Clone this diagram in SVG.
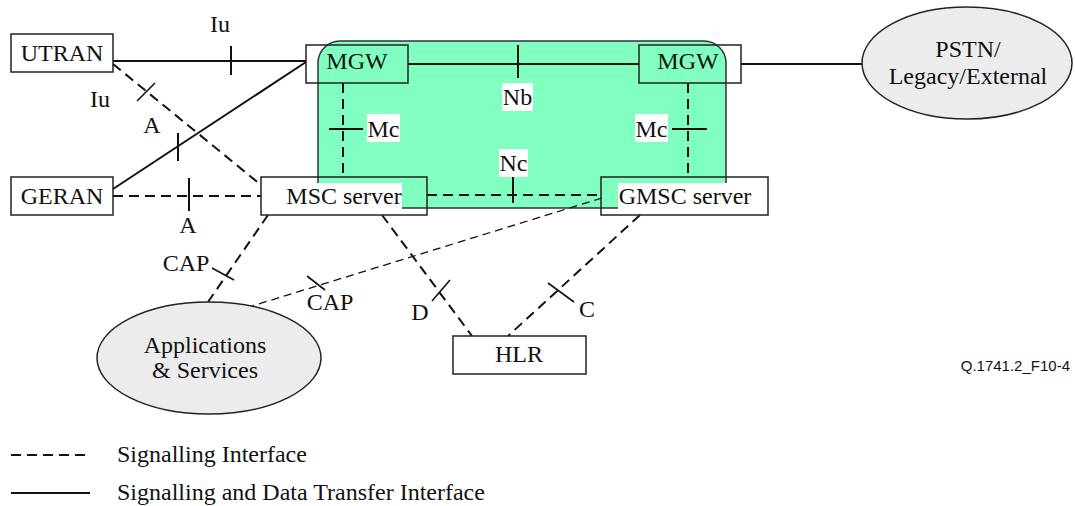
<svg xmlns="http://www.w3.org/2000/svg" width="1075" height="506" viewBox="0 0 1075 506">
<style>
text{font-family:"Liberation Serif","Times New Roman",serif;font-size:24px;fill:#111}
.m{text-anchor:middle}
.box{fill:none;stroke:#222;stroke-width:1.5}
.ell{fill:#ececec;stroke:#222;stroke-width:1.5}
.bg{fill:#fff;stroke:none}
.s{fill:none;stroke:#111;stroke-width:2}
.d{fill:none;stroke:#111;stroke-width:2;stroke-dasharray:10,6}
.dt{fill:none;stroke:#111;stroke-width:1.3;stroke-dasharray:8,5}
.t{fill:none;stroke:#111;stroke-width:1.6}
.note{font-family:"Liberation Sans",Arial,sans-serif;font-size:15px;text-anchor:end}
</style>
<rect width="1075" height="506" fill="#fff"/>
<g id="core-area">
<rect x="318" y="41" width="408" height="167" rx="22" fill="#80FFC0" stroke="#333" stroke-width="1.5"/>
</g>
<g id="connectors">
<path class="s" d="M113,61 H306"/><path class="s" d="M231,46 V75"/>
<path class="s" d="M113,189 L306,62"/><path class="s" d="M178,133 V161"/>
<path class="s" d="M408,64 H639"/><path class="s" d="M518,45 V78"/>
<path class="s" d="M741,64 H862"/>
<path class="d" d="M113,64 L261,185"/><path class="t" d="M137,101 L155,83"/>
<path class="d" d="M113,196 H261"/><path class="s" d="M189,178 V211"/>
<path class="d" d="M343,83 V177"/><path class="s" d="M329,129 H363"/>
<path class="d" d="M688,83 V177"/><path class="s" d="M672,129 H707"/>
<path class="d" d="M427,195 H601"/><path class="s" d="M513,177 V203"/>
<path class="d" d="M268,215 L208,302"/><path class="t" d="M212,268 L234,280"/>
<path class="dt" d="M602,198 L252,306"/><path class="t" d="M307,276 L325,290"/>
<path class="d" d="M382,215 L472,336"/><path class="t" d="M432,301 L450,280"/>
<path class="d" d="M640,215 L508,336"/><path class="t" d="M548,283 L574,302"/>
<text class="m" x="220" y="32">Iu</text>
<text class="m" x="100" y="107">Iu</text>
<text class="m" x="152" y="133">A</text>
<text class="m" x="188" y="233">A</text>
<rect class="bg" x="367" y="114" width="33" height="28"/><text class="m" x="383.5" y="137">Mc</text>
<rect class="bg" x="635" y="114" width="33" height="28"/><text class="m" x="651.5" y="137">Mc</text>
<rect class="bg" x="502" y="83" width="31" height="28"/><text class="m" x="517.5" y="105">Nb</text>
<rect class="bg" x="499" y="149" width="29" height="28"/><text class="m" x="513.5" y="171">Nc</text>
<text class="m" x="186" y="271">CAP</text>
<text class="m" x="330" y="310">CAP</text>
<text class="m" x="420" y="320">D</text>
<text class="m" x="587" y="317">C</text>
</g>
<g id="utran"><rect class="box" x="11" y="34" width="102" height="38"/><text class="m" x="62" y="61">UTRAN</text></g>
<g id="geran"><rect class="box" x="11" y="177" width="102" height="38"/><text class="m" x="62" y="204">GERAN</text></g>
<g id="mgw1"><rect class="box" x="306" y="45" width="102" height="38"/><text class="m" x="357" y="69">MGW</text></g>
<g id="mgw2"><rect class="box" x="639" y="45" width="102" height="38"/><text class="m" x="688" y="69">MGW</text></g>
<g id="msc"><rect class="box" x="261" y="177" width="166" height="38"/><rect class="bg" x="262" y="183" width="140" height="26"/><text class="m" x="344" y="204">MSC server</text></g>
<g id="gmsc"><rect class="box" x="601" y="177" width="167" height="38"/><rect class="bg" x="618" y="183" width="134" height="26"/><text class="m" x="685" y="204">GMSC server</text></g>
<g id="hlr"><rect class="box" x="453" y="336" width="133" height="38"/><text class="m" x="519" y="362">HLR</text></g>
<g id="pstn"><ellipse class="ell" cx="967" cy="63" rx="105" ry="56"/><text class="m" x="968" y="57">PSTN/</text><text class="m" x="968" y="84">Legacy/External</text></g>
<g id="apps"><ellipse class="ell" cx="209" cy="358" rx="112" ry="56"/><text class="m" x="205" y="353">Applications</text><text class="m" x="205" y="378">&amp; Services</text></g>
<text class="note" x="1070" y="371">Q.1741.2_F10-4</text>
<g id="legend">
<path class="d" d="M11,455 H90"/><text x="117" y="462">Signalling Interface</text>
<path class="s" d="M11,493 H90"/><text x="117" y="500">Signalling and Data Transfer Interface</text>
</g>
</svg>
